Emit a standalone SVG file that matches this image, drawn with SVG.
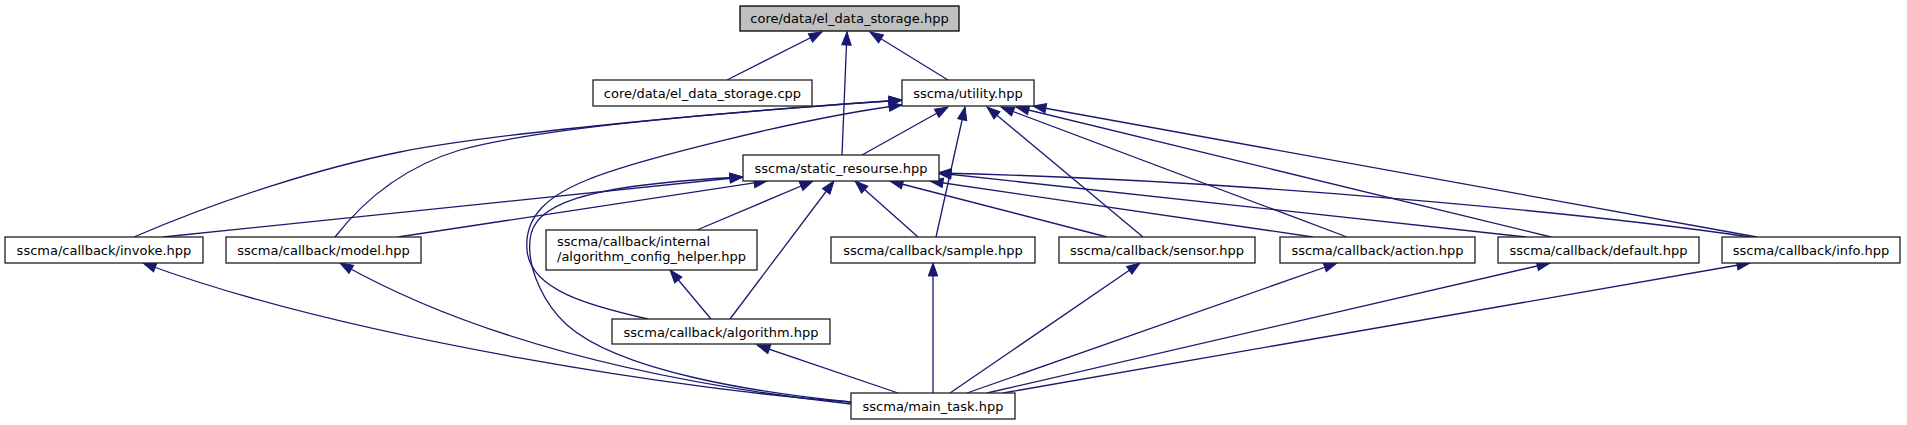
<svg xmlns="http://www.w3.org/2000/svg" width="1907" height="425" viewBox="0 0 1907 425">
<style>
.bg{fill:#ffffff}
.n rect{fill:#ffffff;stroke:#202020;stroke-width:1.3}
.n.root rect{fill:#bfbfbf;stroke:#000000}
.n text{font-family:"DejaVu Sans","Liberation Sans",sans-serif;font-size:13px;fill:#000000}
.c{text-anchor:middle}
.e path{fill:none;stroke:#191970;stroke-width:1.3;marker-end:url(#ah)}
</style>
<defs>
<marker id="ah" markerUnits="userSpaceOnUse" markerWidth="13" markerHeight="9.4" viewBox="0 0 13 9.4" refX="13" refY="4.7" orient="auto" overflow="visible">
<path d="M0,0 L13,4.7 L0,9.4 z" fill="#191970" stroke="#191970" stroke-width="1"/>
</marker>
</defs>
<rect class="bg" x="0" y="0" width="1907" height="425"/>
<g id="edges" class="e">
<path d="M727,80 L822,32"/>
<path d="M948,80 L870,32"/>
<path d="M842,155 L847,32"/>
<path d="M862,155 L948,107"/>
<path d="M134,237 C220,200 320,168 400,152 C500,132 750,110 902,100"/>
<path d="M335,237 C360,205 400,168 460,150 C550,125 760,110 902,100"/>
<path d="M648,319 C590,306 530,290 527,250 C524,215 550,195 587,180 C630,162 800,118 902,105"/>
<path d="M936,237 L965,107"/>
<path d="M1143,237 L987,107"/>
<path d="M1347,237 L1001,107"/>
<path d="M1551,237 L1016,107"/>
<path d="M1757,237 L1033,106"/>
<path d="M163,237 L743,177"/>
<path d="M398,237 L767,181"/>
<path d="M697,230 L813,181"/>
<path d="M730,319 L834,181"/>
<path d="M918,237 L855,181"/>
<path d="M1107,237 L890,181"/>
<path d="M1313,237 L930,181"/>
<path d="M1526,237 L938,173"/>
<path d="M1750,237 C1600,215 1250,180 938,173"/>
<path d="M851,402 C760,393 620,372 567,325 C545,305 527,270 530,240 C533,205 580,185 743,177"/>
<path d="M711,319 L670,270"/>
<path d="M851,402 C700,392 350,340 143,263"/>
<path d="M851,404 C760,394 520,365 340,263"/>
<path d="M898,393 L757,345"/>
<path d="M933,393 L933,263"/>
<path d="M950,393 L1140,263"/>
<path d="M967,393 L1337,263"/>
<path d="M987,393 L1550,263"/>
<path d="M1003,393 L1750,263"/>
</g>
<g id="node_el_data_storage_hpp" class="n root"><rect x="740" y="6" width="219" height="25"/><text class="c" x="849.5" y="23">core/data/el_data_storage.hpp</text></g>
<g id="node_el_data_storage_cpp" class="n"><rect x="593" y="80" width="219" height="26"/><text class="c" x="702.5" y="97.5">core/data/el_data_storage.cpp</text></g>
<g id="node_utility" class="n"><rect x="902" y="80" width="132" height="26"/><text class="c" x="968" y="97.5">sscma/utility.hpp</text></g>
<g id="node_static_resourse" class="n"><rect x="743" y="155" width="196" height="26"/><text class="c" x="841" y="172.5">sscma/static_resourse.hpp</text></g>
<g id="node_invoke" class="n"><rect x="5" y="237" width="198" height="26"/><text class="c" x="104" y="254.5">sscma/callback/invoke.hpp</text></g>
<g id="node_model" class="n"><rect x="226" y="237" width="195" height="26"/><text class="c" x="323.5" y="254.5">sscma/callback/model.hpp</text></g>
<g id="node_algorithm_config_helper" class="n"><rect x="546" y="230" width="211" height="40"/><text x="557" y="245.5">sscma/callback/internal</text><text x="557" y="260.5">/algorithm_config_helper.hpp</text></g>
<g id="node_sample" class="n"><rect x="831" y="237" width="204" height="26"/><text class="c" x="933" y="254.5">sscma/callback/sample.hpp</text></g>
<g id="node_sensor" class="n"><rect x="1059" y="237" width="196" height="26"/><text class="c" x="1157" y="254.5">sscma/callback/sensor.hpp</text></g>
<g id="node_action" class="n"><rect x="1280" y="237" width="195" height="26"/><text class="c" x="1377.5" y="254.5">sscma/callback/action.hpp</text></g>
<g id="node_default" class="n"><rect x="1498" y="237" width="201" height="26"/><text class="c" x="1598.5" y="254.5">sscma/callback/default.hpp</text></g>
<g id="node_info" class="n"><rect x="1722" y="237" width="178" height="26"/><text class="c" x="1811" y="254.5">sscma/callback/info.hpp</text></g>
<g id="node_algorithm" class="n"><rect x="612" y="319" width="218" height="25"/><text class="c" x="721" y="336.5">sscma/callback/algorithm.hpp</text></g>
<g id="node_main_task" class="n"><rect x="851" y="393" width="164" height="26"/><text class="c" x="933" y="410.5">sscma/main_task.hpp</text></g>
</svg>
